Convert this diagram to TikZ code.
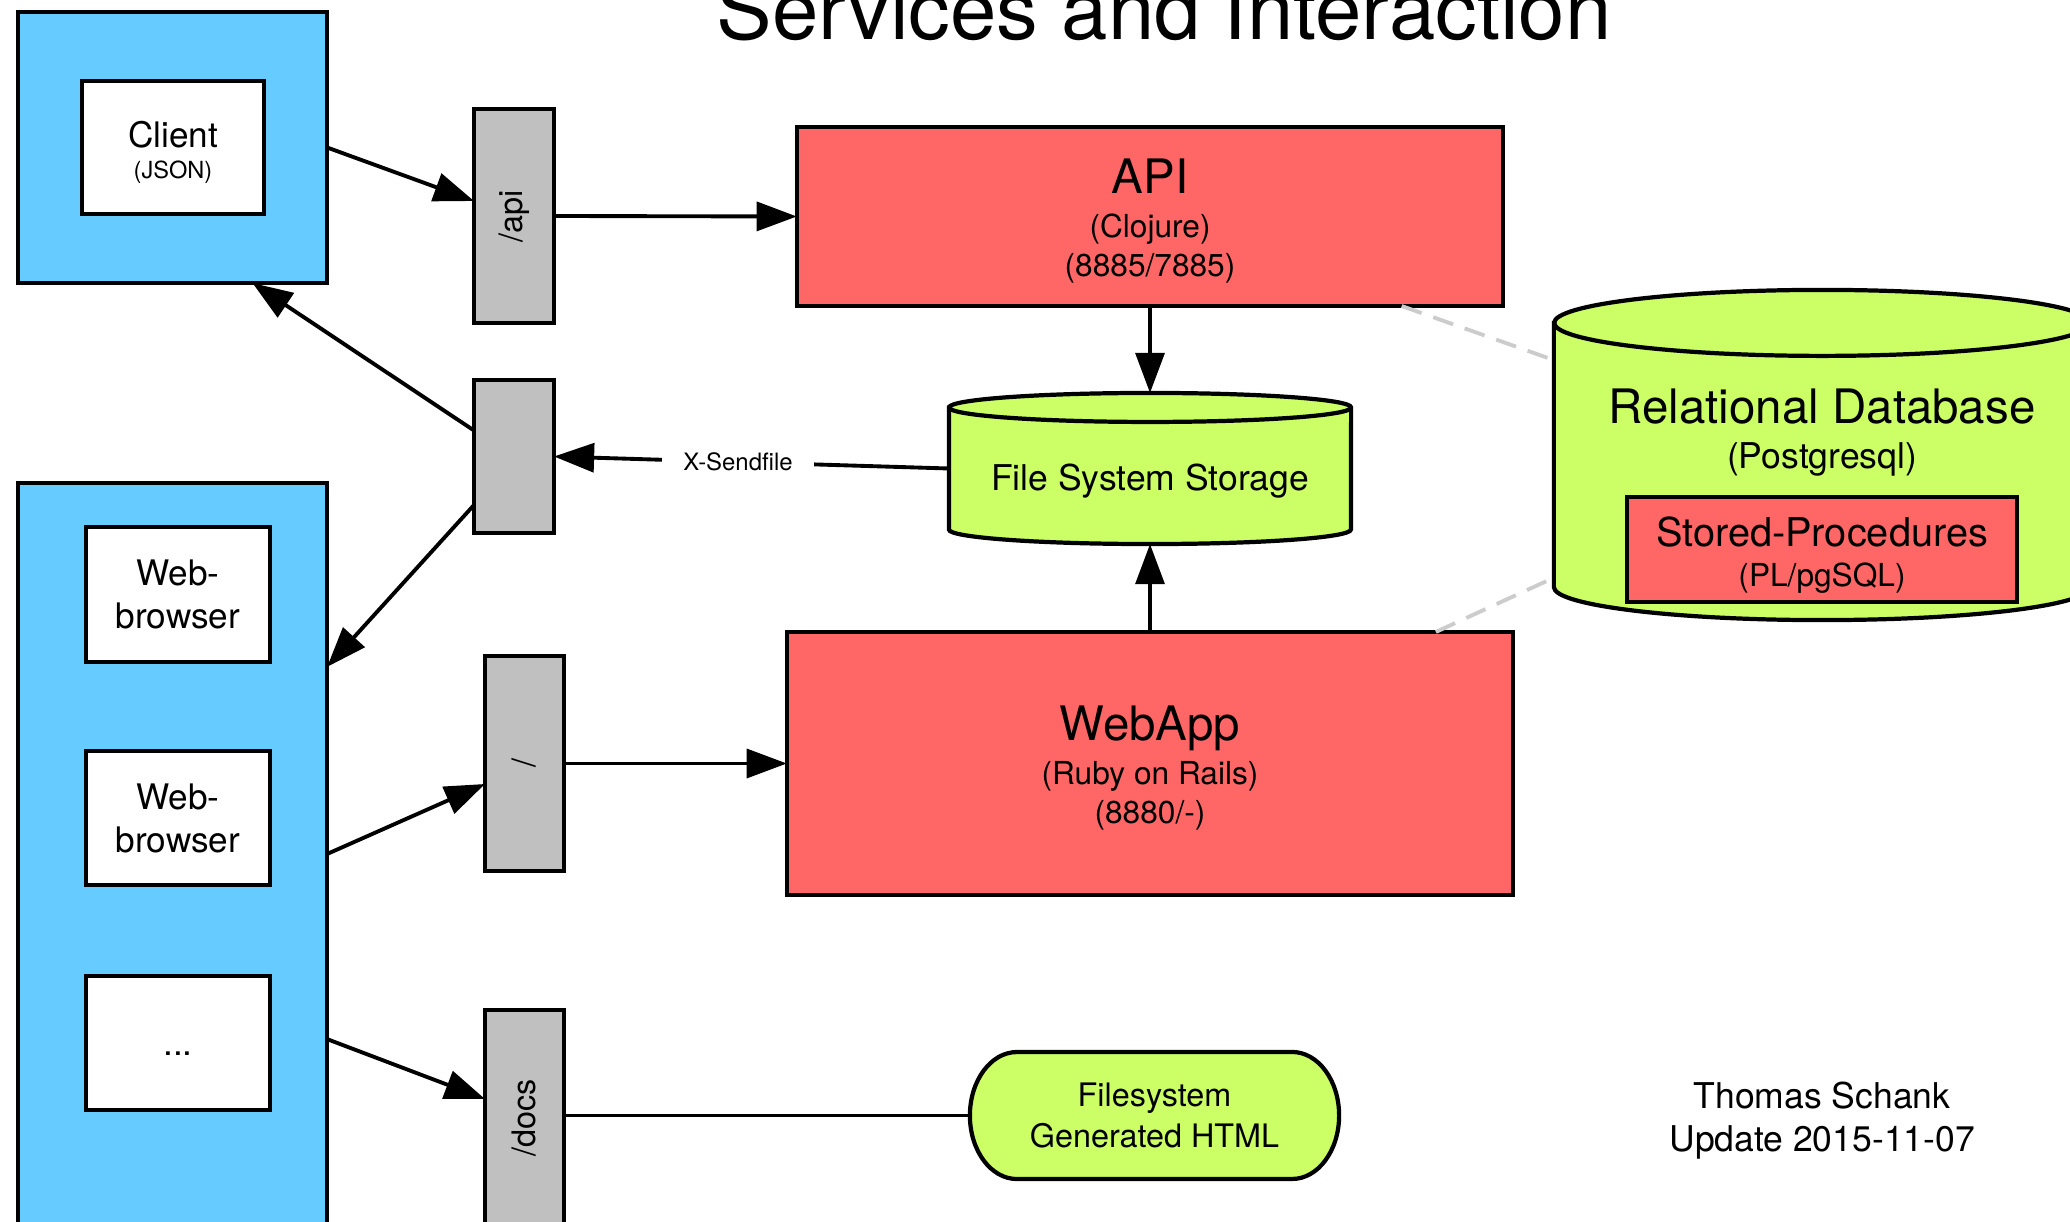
\documentclass[tikz,border=0pt]{standalone}
\usepackage{fontspec}
\usepackage{graphicx}
\setmainfont{TeX Gyre Heros}
\usetikzlibrary{arrows.meta,calc,backgrounds}

\definecolor{clientblue}{HTML}{66CCFF}
\definecolor{svcred}{HTML}{FF6666}
\definecolor{storegreen}{HTML}{CCFF66}
\definecolor{portgray}{HTML}{C0C0C0}
\definecolor{linkgray}{HTML}{CCCCCC}

\newcommand{\fsz}[2]{\fontsize{#1}{#2}\selectfont}

\begin{document}
\begin{tikzpicture}[x=0.01cm, y=0.01cm,
  every node/.style={inner sep=0pt, outer sep=0pt},
  framed/.style={draw=black, line width=1.2pt, align=center},
  clientgroup/.style={framed, fill=clientblue},
  agentbox/.style={framed, fill=white, font=\fsz{10}{12.2}},
  portbox/.style={framed, fill=portgray, minimum width=0.80cm, font=\fsz{9.2}{11}},
  servicebox/.style={framed, fill=svcred},
  boxtext/.style={align=center, font=\fsz{9}{11.3}},
  storeshape/.style={draw=black, line width=1.2pt, fill=storegreen},
  rimline/.style={draw=black, line width=1.2pt},
  flowarrow/.style={line width=1.1pt, -{Triangle[length=11.4pt,width=8.2pt]}},
  plainlink/.style={line width=1.1pt},
  assocline/.style={draw=linkgray, line width=1.1pt, dash pattern=on 6pt off 3.5pt},
]
\useasboundingbox (0,0) rectangle (2070,-1222);

% heading
\node[anchor=base, font=\fsz{23.7}{28}] (title) at (1164,-40) {Services and Interaction};

% client groups on the left
\node[clientgroup, minimum width=3.09cm, minimum height=2.71cm] (clientbox) at (172.5,-147.5) {};
\node[agentbox, minimum width=1.82cm, minimum height=1.33cm] (client) at (173,-147.5) {};
\node[boxtext, font=\fsz{6.7}{8.8}] (clienttext) at ($(client.center)+(0,-5)$) {{\fsz{10}{12}Client}\\(JSON)};

\node[clientgroup, minimum width=3.09cm, minimum height=7.57cm] (webgroup) at (172.5,-861.5) {};
\node[agentbox, minimum width=1.84cm, minimum height=1.35cm] (browserA) at (178,-594.5) {Web-\\browser};
\node[agentbox, minimum width=1.84cm, minimum height=1.34cm] (browserB) at (178,-818) {Web-\\browser};
\node[agentbox, minimum width=1.84cm, minimum height=1.34cm, text height=7pt, text depth=0pt] (more) at (178,-1043) {...};

% routing ports
\node[portbox, minimum height=2.14cm] (apiport) at (514,-216) {\rotatebox{90}{/api}};
\node[portbox, minimum height=1.53cm] (fileport) at (514,-456.5) {};
\node[portbox, minimum width=0.79cm, minimum height=2.15cm] (rootport) at (524.5,-763.5) {\rotatebox{90}{/}};
\node[portbox, minimum width=0.79cm, minimum height=2.16cm] (docsport) at (524.5,-1118) {\rotatebox{90}{/docs}};

% services
\node[servicebox, minimum width=7.06cm, minimum height=1.79cm] (api) at (1150,-216.5) {};
\node[boxtext] (apitext) at ($(api.center)+(0,-5)$) {{\fsz{13.5}{16}API}\\[1pt](Clojure)\\(8885/7885)};
\node[servicebox, minimum width=7.26cm, minimum height=2.63cm] (webapp) at (1150,-763.5) {};
\node[boxtext] (webapptext) at ($(webapp.center)+(0,-5)$) {{\fsz{13.5}{16}WebApp}\\[1pt](Ruby on Rails)\\(8880/-)};

% storage outlines (shapes drawn behind)
\node[minimum width=4.02cm, minimum height=1.51cm] (fs) at (1150,-468.5) {};
\node[minimum width=5.36cm, minimum height=3.30cm] (db) at (1822,-455) {};
\node[minimum width=3.69cm, minimum height=1.27cm, align=center, font=\fsz{9.2}{11.4}] (html) at (1154.5,-1115.5) {Filesystem\\Generated HTML};

\begin{scope}[on background layer]
  % file system storage cylinder
  \path[storeshape] ($(fs.north west)+(0,-14.5)$) -- ($(fs.south west)+(0,14.5)$)
    arc[start angle=180, end angle=360, x radius=201, y radius=14.5]
    -- ($(fs.north east)+(0,-14.5)$)
    arc[start angle=0, end angle=180, x radius=201, y radius=14.5] -- cycle;
  \path[rimline] ($(fs.north east)+(0,-14.5)$)
    arc[start angle=0, end angle=-180, x radius=201, y radius=14.5];
  % relational database cylinder
  \path[storeshape] ($(db.north west)+(0,-33)$) -- ($(db.south west)+(0,33)$)
    arc[start angle=180, end angle=360, x radius=268, y radius=33]
    -- ($(db.north east)+(0,-33)$)
    arc[start angle=0, end angle=180, x radius=268, y radius=33] -- cycle;
  \path[rimline] ($(db.north east)+(0,-33)$)
    arc[start angle=0, end angle=-180, x radius=268, y radius=33];
  % generated docs terminator
  \path[storeshape] ($(html.north west)+(47,0)$) -- ($(html.north east)+(-47,0)$)
    arc[start angle=90, end angle=-90, x radius=47, y radius=63.5]
    -- ($(html.south west)+(47,0)$)
    arc[start angle=270, end angle=90, x radius=47, y radius=63.5] -- cycle;
\end{scope}

\node[font=\fsz{10.1}{12}] (fstext) at (1150,-481.5) {File System Storage};
\node[align=center, font=\fsz{10.1}{12.8}] (dbtext) at (1822,-433) {{\fsz{13.5}{16}Relational Database}\\(Postgresql)};
\node[servicebox, minimum width=3.90cm, minimum height=1.05cm] (procs) at (1822,-549.5) {};
\node[boxtext, font=\fsz{9}{11.4}] (procstext) at ($(procs.center)+(0,-5.5)$) {{\fsz{11.3}{13}Stored-Procedures}\\(PL/pgSQL)};

\node[align=center, font=\fsz{10.1}{12.2}] (author) at (1822,-1121) {Thomas Schank\\Update 2015-11-07};

% connectors
\draw[flowarrow] (clientbox.east) -- ([yshift=0.15cm]apiport.west);
\draw[flowarrow] (apiport.east) -- (api.west);
\draw[flowarrow] ([yshift=0.26cm]fileport.west) -- ([xshift=0.8cm]clientbox.south);
\draw[flowarrow] ([yshift=-0.485cm]fileport.west) -- ([yshift=-1.84cm]webgroup.north east);
\draw[flowarrow] (fs.west) -- node[pos=0.534, fill=white, inner xsep=6pt, inner ysep=2pt, font=\fsz{6.8}{8}] (sendfile) {X-Sendfile} (fileport.east);
\draw[flowarrow] (api.south) -- (fs.north);
\draw[flowarrow] (webapp.north) -- (fs.south);
\draw[flowarrow] ([yshift=-3.71cm]webgroup.north east) -- ([yshift=-0.205cm]rootport.west);
\draw[flowarrow] (rootport.east) -- (webapp.west);
\draw[flowarrow] ([yshift=-5.56cm]webgroup.north east) -- ([yshift=0.19cm]docsport.west);
\draw[plainlink] (docsport.east |- html.west) -- (html.west);
\draw[assocline] (api) -- (db);
\draw[assocline] (webapp) -- (db);
\end{tikzpicture}
\end{document}
